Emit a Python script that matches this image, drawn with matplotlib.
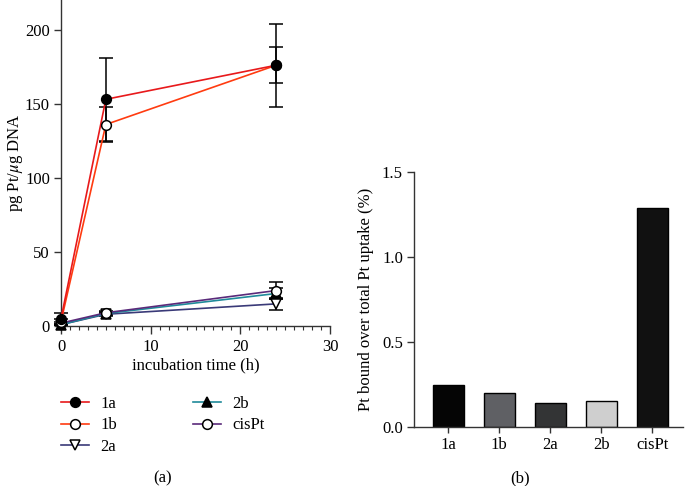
import matplotlib
matplotlib.use("Agg")
import matplotlib.pyplot as plt
from matplotlib.lines import Line2D
from matplotlib.ticker import MultipleLocator

plt.rcParams['font.family'] = ['Liberation Serif', 'DejaVu Serif']
plt.rcParams['mathtext.fontset'] = 'stix'

# ---- data panel (a)
time_h = [0, 5, 24]
s1a = [5, 153, 176]
e1a = [4, 28, 28]
s1b = [3, 136, 176]
e1b = [2, 12, 12]
s2a = [1, 8, 15]
e2a = [0.5, 1, 4]
s2b = [1, 8.5, 22]
e2b = [0.5, 1, 4]
scis = [2, 9, 24]
ecis = [1, 1, 6]

# ---- data panel (b)
bar_labels = ['1a', '1b', '2a', '2b', 'cisPt']
bar_values = [0.245, 0.20, 0.14, 0.15, 1.29]
bar_colors = ['#050505', '#5f6064', '#333435', '#cfcfcf', '#111111']

FS = 12
fig = plt.figure(figsize=(6.87, 4.86), dpi=100)
axc = '#333333'

ax1 = fig.add_axes([0.0888, 0.329, 0.3916, 0.671])
series = [
    ('1a', s1a, e1a, '#e8191b', 'o', 'black', 'black'),
    ('1b', s1b, e1b, '#ff3b10', 'o', 'white', 'black'),
    ('2a', s2a, e2a, '#3a3a78', 'v', 'white', 'black'),
    ('2b', s2b, e2b, '#1f8a9a', '^', 'black', 'black'),
    ('cisPt', scis, ecis, '#5a2a7a', 'o', 'white', 'black'),
]
order = [2, 3, 4, 1, 0]
for i in order:
    name, y, e, lc, m, fc, ec = series[i]
    ax1.errorbar(time_h, y, yerr=e, fmt='none', ecolor='black', elinewidth=1.1,
                 capsize=5, capthick=1.1, zorder=2, clip_on=False)
    ax1.plot(time_h, y, color=lc, lw=1.2, zorder=3, clip_on=False)
    ax1.plot(time_h, y, ls='none', marker=m, ms=7, mfc=fc, mec=ec, mew=1.1, zorder=4,
             clip_on=False)

ax1.set_xlim(0, 30)
ax1.set_ylim(0, 220)
ax1.set_yticks([0, 50, 100, 150, 200])
ax1.set_xticks([0, 10, 20, 30])
ax1.xaxis.set_minor_locator(MultipleLocator(1))
for s in ['top', 'right']:
    ax1.spines[s].set_visible(False)
for s in ['left', 'bottom']:
    ax1.spines[s].set_color(axc)
    ax1.spines[s].set_linewidth(1.0)
ax1.tick_params(axis='x', which='major', length=6, width=1, color=axc, labelsize=FS, pad=3)
ax1.tick_params(axis='x', which='minor', length=3, width=0.8, color=axc)
ax1.tick_params(axis='y', length=5, width=1, color=axc, labelsize=FS, pad=3)
ax1.set_xlabel('incubation time (h)', fontsize=FS, labelpad=2)
ax1.set_ylabel('pg Pt/$\\mu$g DNA', fontsize=FS, labelpad=0)

handles = []
for name, y, e, lc, m, fc, ec in series:
    handles.append(Line2D([], [], color=lc, lw=1.2, marker=m, ms=7, mfc=fc, mec=ec, mew=1.1))
names = [s[0] for s in series]
leg = fig.legend(handles, names, ncol=2, loc='upper left', bbox_to_anchor=(0.0888, 0.185),
                 frameon=False, fontsize=FS, handlelength=1.68, handletextpad=0.66,
                 columnspacing=4.6, labelspacing=0.32, borderpad=0, borderaxespad=0)

fig.text(0.237, 0.016, '(a)', ha='center', va='center', fontsize=FS)

# ---- panel (b)
ax2 = fig.add_axes([0.6026, 0.1214, 0.3916, 0.5247])
xpos = list(range(len(bar_labels)))
ax2.bar(xpos, bar_values, width=0.6, color=bar_colors, edgecolor='black', linewidth=1.0)
ax2.set_xlim(-0.67, 4.6)
ax2.set_ylim(0, 1.5)
ax2.set_yticks([0.0, 0.5, 1.0, 1.5])
ax2.set_yticklabels(['0.0', '0.5', '1.0', '1.5'])
ax2.set_xticks(xpos)
ax2.set_xticklabels(bar_labels)
for s in ['top', 'right']:
    ax2.spines[s].set_visible(False)
for s in ['left', 'bottom']:
    ax2.spines[s].set_color(axc)
    ax2.spines[s].set_linewidth(1.0)
ax2.tick_params(axis='x', length=4, width=1, color=axc, labelsize=FS, pad=3)
ax2.tick_params(axis='y', length=5, width=1, color=axc, labelsize=FS, pad=3)
ax2.set_ylabel('Pt bound over total Pt uptake (%)', fontsize=FS, labelpad=6)

fig.text(0.757, 0.016, '(b)', ha='center', va='center', fontsize=FS)

fig.savefig('out.png', dpi=100)
